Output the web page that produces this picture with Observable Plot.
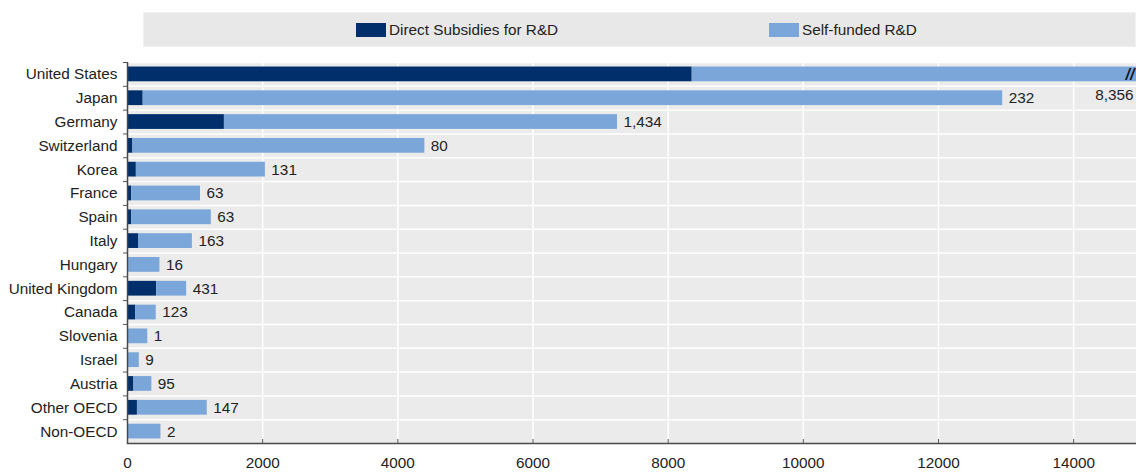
<!DOCTYPE html>
<html>
<head>
<meta charset="utf-8">
<script src="https://cdn.jsdelivr.net/npm/d3@7"></script>
<script src="https://cdn.jsdelivr.net/npm/@observablehq/plot@0.6"></script>
<style>
  html, body { margin: 0; padding: 0; background: #ffffff; }
  body { width: 1136px; height: 472px; position: relative; overflow: hidden;
         font-family: "Liberation Sans", Arial, sans-serif; color: #222; }
  .legend { position: absolute; left: 143px; top: 12px; width: 993px; height: 35px;
            background: #e8e8e8; box-sizing: border-box; border: 1px solid #f1f1f1; }
  .legend .item { position: absolute; top: 0; height: 34px; display: flex; align-items: center; font-size: 15.3px; }
  .legend .sw { width: 30px; height: 14px; margin-right: 3px; }
  #chart { position: absolute; left: 0; top: 47px; }
</style>
</head>
<body>
<div class="legend" id="legend"></div>
<div id="chart"></div>
<script>
// Categories, top to bottom
const countries = [
  "United States", "Japan", "Germany", "Switzerland", "Korea", "France", "Spain", "Italy",
  "Hungary", "United Kingdom", "Canada", "Slovenia", "Israel", "Austria", "Other OECD", "Non-OECD"
];
// Direct subsidies for R&D (labelled values)
const subsidies = [8356, 232, 1434, 80, 131, 63, 63, 163, 16, 431, 123, 1, 9, 95, 147, 2];
// Self-funded R&D (United States runs past the axis and is cut off)
const selfFunded = [16900, 12718, 5816, 4320, 1909, 1017, 1177, 797, 464, 444, 302, 299, 166, 265, 1033, 493];

const seriesNames = ["Direct Subsidies for R&D", "Self-funded R&D"];
const seriesColors = ["#002f6c", "#7ba6d9"];
const xTicks = [0, 2000, 4000, 6000, 8000, 10000, 12000, 14000];
const xMax = 14930;

// Legend
const legend = document.getElementById("legend");
const legendLeft = [212, 625];
seriesNames.forEach((name, i) => {
  const item = document.createElement("div");
  item.className = "item";
  item.style.left = legendLeft[i] + "px";
  const sw = document.createElement("span");
  sw.className = "sw";
  sw.style.background = seriesColors[i];
  const label = document.createElement("span");
  label.textContent = name;
  item.append(sw, label);
  legend.append(item);
});

// Long table for stacking: subsidy first, then self-funded
const rows = [];
countries.forEach((c, i) => {
  rows.push({country: c, series: seriesNames[0], value: subsidies[i]});
  rows.push({country: c, series: seriesNames[1], value: selfFunded[i]});
});
const labels = countries.map((c, i) => ({
  country: c, total: subsidies[i] + selfFunded[i], subsidy: subsidies[i]
}));
const fmt = d3.format(",");
const step = 381 / countries.length;

const chart = Plot.plot({
  width: 1136,
  height: 425,
  marginLeft: 127,
  marginRight: 0,
  marginTop: 15,
  marginBottom: 29,
  style: {fontFamily: "'Liberation Sans', Arial, sans-serif", fontSize: "15.3px", color: "#222", background: "transparent"},
  x: {domain: [0, xMax], ticks: xTicks},
  y: {domain: countries, paddingInner: 0.38, paddingOuter: 0.19, round: false, label: null},
  color: {domain: seriesNames, range: seriesColors},
  marks: [
    Plot.frame({fill: "#ebebeb", stroke: null}),
    Plot.gridX({ticks: xTicks.slice(1), stroke: "#ffffff", strokeOpacity: 1, strokeWidth: 1.5}),
    Plot.gridY({stroke: "#ffffff", strokeOpacity: 1, strokeWidth: 1.5, dy: -step / 2}),
    Plot.barX(rows, {x: "value", y: "country", fill: "series", clip: true}),
    // value labels at the end of each bar
    Plot.text(labels.slice(1), {x: "total", y: "country", text: d => fmt(d.subsidy),
      textAnchor: "start", dx: 6, fill: "#222"}),
    // truncated United States bar: break mark and its label
    Plot.text(labels.slice(0, 1), {x: () => xMax, y: "country", text: () => "//",
      textAnchor: "end", dx: -2, fill: "#111827", fontWeight: "bold", fontStyle: "italic", fontSize: 16}),
    Plot.text(labels.slice(0, 1), {x: () => xMax, y: "country", text: d => fmt(d.subsidy),
      textAnchor: "end", dx: -3, dy: step - 3, fill: "#222"}),
    // axes
    Plot.axisY({tickSize: 0, tickPadding: 10, label: null}),
    Plot.axisY({tickSize: 4, dy: -step / 2, tickFormat: () => "", stroke: "#555", label: null}),
    Plot.axisX({ticks: xTicks, tickSize: 0, tickPadding: 14, tickFormat: d => String(d), label: null}),
    Plot.axisX({ticks: xTicks, tickSize: 4, dy: -4, tickFormat: () => "", stroke: "#555", label: null}),
    Plot.ruleX([0], {stroke: "#4a4a4a", strokeWidth: 1.5}),
    Plot.frame({anchor: "bottom", stroke: "#4a4a4a", strokeWidth: 1.5})
  ]
});
document.getElementById("chart").append(chart);
</script>
</body>
</html>
